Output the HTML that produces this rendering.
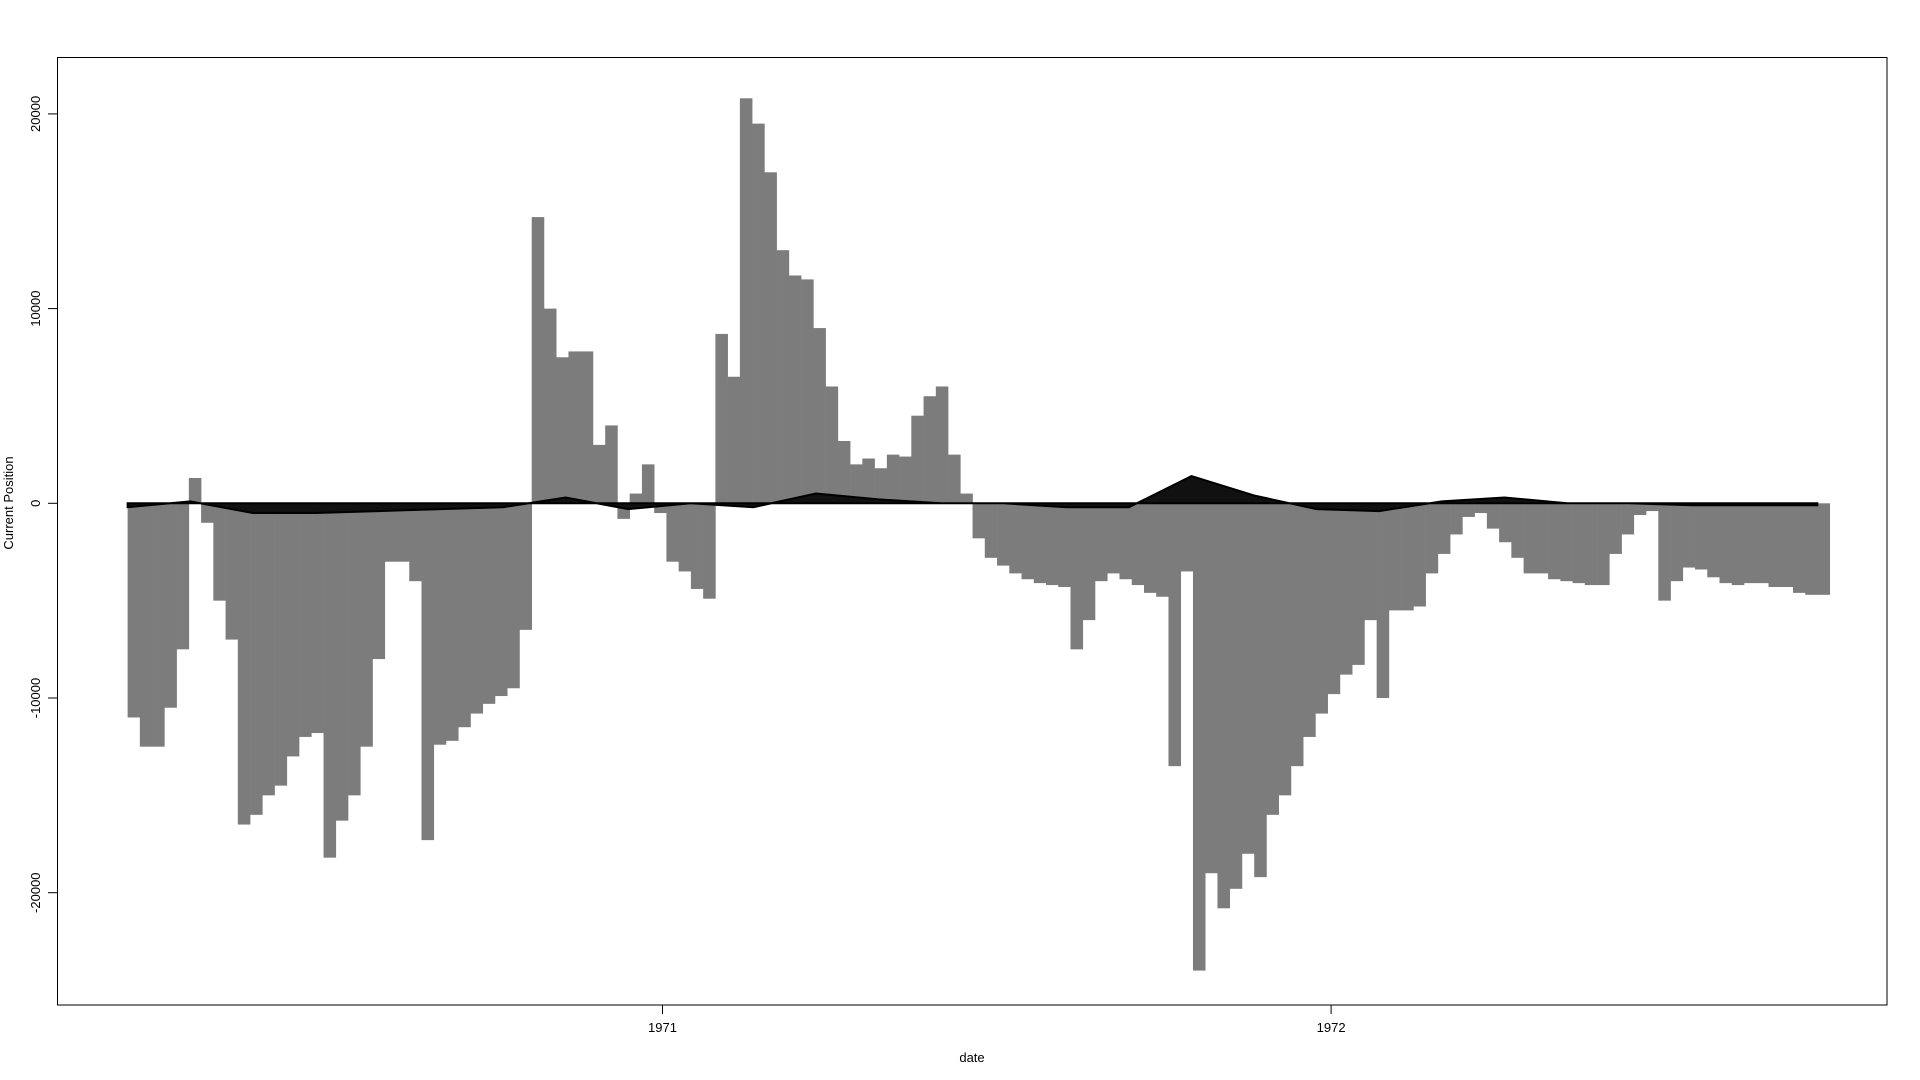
<!DOCTYPE html>
<html><head><meta charset="utf-8"><style>
html,body{margin:0;padding:0;background:#fff;}
svg{display:block;font-family:"Liberation Sans",sans-serif;}
</style></head><body>
<svg id="chart" width="1920" height="1080" viewBox="0 0 1920 1080">
<rect x="57.5" y="57.5" width="1829.5" height="947.5" fill="none" stroke="#000" stroke-width="1"/>
<g id="bars"></g>
<g id="sec"></g>
<g id="axes"></g>
<text x="972" y="1062" font-size="13" text-anchor="middle">date</text>
<text x="13" y="503" font-size="13" text-anchor="middle" transform="rotate(-90 13 503)">Current Position</text>
</svg>
<script>
// Main series: evenly spaced from startYear, step stepYear (values)
const startYear = 1970.2;
const stepYear = 0.018315;
const values = [-11000,-12500,-12500,-10500,-7500,1300,-1000,-5000,-7000,-16500,-16000,-15000,-14500,-13000,-12000,-11800,-18200,-16300,-15000,-12500,-8000,-3000,-3000,-4000,-17300,-12400,-12200,-11500,-10800,-10300,-9900,-9500,-6500,14700,10000,7500,7800,7800,3000,4000,-800,500,2000,-500,-3000,-3500,-4400,-4900,8700,6500,20800,19500,17000,13000,11700,11500,9000,6000,3200,2000,2300,1800,2500,2400,4500,5500,6000,2500,500,-1800,-2800,-3200,-3600,-3900,-4100,-4200,-4300,-7500,-6000,-4000,-3600,-3900,-4200,-4600,-4800,-13500,-3500,-24000,-19000,-20800,-19800,-18000,-19200,-16000,-15000,-13500,-12000,-10800,-9800,-8800,-8300,-6000,-10000,-5500,-5500,-5300,-3600,-2600,-1600,-700,-500,-1300,-2000,-2800,-3600,-3600,-3900,-4000,-4100,-4200,-4200,-2600,-1600,-600,-400,-5000,-4000,-3300,-3400,-3800,-4100,-4200,-4100,-4100,-4300,-4300,-4600,-4700,-4700];
// Secondary series (near-zero), step secStep
const secStep = 0.0936;
const secValues = [-200,100,-500,-500,-400,-300,-200,300,-300,0,-200,500,200,0,0,-200,-200,1400,400,-300,-400,100,300,0,0,-100,-100,-100];
const xTicks = [1971, 1972];
const yTicks = [-20000, -10000, 0, 10000, 20000];

const NS = "http://www.w3.org/2000/svg";
function xScale(yr){ return 662.5 + (yr - 1971) * 668.6; }
function yScale(v){ return 503.3 - v * 389.4 / 20000; }
const bw = stepYear * 668.6;
const gb = document.getElementById('bars');
values.forEach((v, i) => {
  const x = xScale(startYear + i * stepYear);
  const y0 = yScale(0), y1 = yScale(v);
  const r = document.createElementNS(NS, 'rect');
  r.setAttribute('x', x);
  r.setAttribute('width', bw + 0.3);
  r.setAttribute('y', Math.min(y0, y1));
  r.setAttribute('height', Math.abs(y1 - y0));
  r.setAttribute('fill', '#7c7c7c');
  
  
  gb.appendChild(r);
});
const gs = document.getElementById('sec');
let pts = secValues.map((v, i) => xScale(startYear + i * secStep) + ',' + yScale(v));
const pl = document.createElementNS(NS, 'polygon');
pl.setAttribute('points', xScale(startYear) + ',' + yScale(0) + ' ' + pts.join(' ') + ' ' + xScale(startYear + (secValues.length - 1) * secStep) + ',' + yScale(0));
pl.setAttribute('fill', '#111');
pl.setAttribute('stroke', '#000');
pl.setAttribute('stroke-width', '2');


gs.appendChild(pl);

const ga = document.getElementById('axes');
xTicks.forEach(t => {
  const x = xScale(t);
  const l = document.createElementNS(NS, 'line');
  l.setAttribute('x1', x); l.setAttribute('x2', x);
  l.setAttribute('y1', 1005); l.setAttribute('y2', 1014);
  l.setAttribute('stroke', '#000');
  
  
  ga.appendChild(l);
  const tx = document.createElementNS(NS, 'text');
  tx.setAttribute('x', x); tx.setAttribute('y', 1032);
  tx.setAttribute('font-size', '13'); tx.setAttribute('text-anchor', 'middle');
  tx.textContent = t;
  
  
  ga.appendChild(tx);
});
yTicks.forEach(t => {
  const y = yScale(t);
  const l = document.createElementNS(NS, 'line');
  l.setAttribute('x1', 48); l.setAttribute('x2', 57.5);
  l.setAttribute('y1', y); l.setAttribute('y2', y);
  l.setAttribute('stroke', '#000');
  
  
  ga.appendChild(l);
  const tx = document.createElementNS(NS, 'text');
  tx.setAttribute('x', 40); tx.setAttribute('y', y);
  tx.setAttribute('font-size', '13'); tx.setAttribute('text-anchor', 'middle');
  tx.setAttribute('transform', 'rotate(-90 40 ' + y + ')');
  tx.textContent = t;
  
  
  ga.appendChild(tx);
});
</script>
</body></html>
